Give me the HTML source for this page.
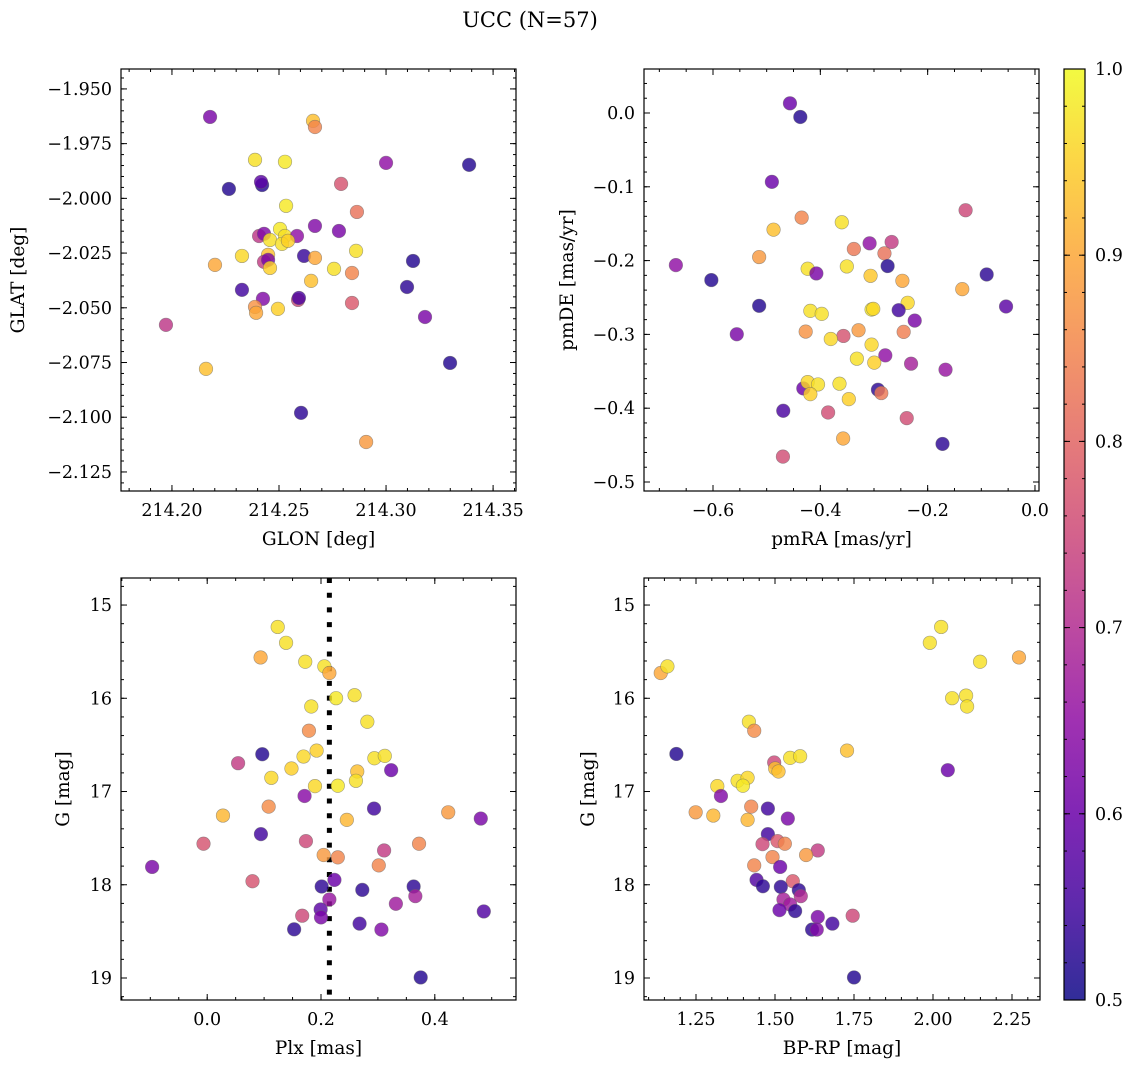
<!DOCTYPE html>
<html><head><meta charset="utf-8">
<style>
html,body{margin:0;padding:0;background:#fff;}
svg{display:block;font-family:"DejaVu Serif","Liberation Serif",serif;}
</style></head>
<body>
<svg id="fig" width="1136" height="1068" viewBox="0 0 1136 1068" xmlns="http://www.w3.org/2000/svg">
<text x="530" y="27" text-anchor="middle" font-size="21">UCC (N=57)</text>
</svg>
<script>
// Panel 1: GLON vs GLAT
const glon1 = [214.2178,214.2266,214.2421,214.2659,214.2668,214.2388,214.2528,214.3000,214.3388,214.2416,214.2790,214.2533,214.2864,214.2668,214.2780,214.2860,214.2407,214.2430,214.2505,214.2528,214.2584,214.2458,214.2514,214.2542,214.2327,214.2449,214.2617,214.2668,214.2201,214.2430,214.2449,214.2458,214.2757,214.2841,214.3126,214.2327,214.2425,214.2589,214.2593,214.2650,214.2388,214.2393,214.2495,214.2841,214.3098,214.3182,214.1972,214.3299,214.2159,214.2603,214.2907];
const glat1 = [-1.9628,-1.9957,-1.9939,-1.9646,-1.9674,-1.9824,-1.9833,-1.9838,-1.9847,-1.9925,-1.9934,-2.0034,-2.0062,-2.0126,-2.0149,-2.0240,-2.0172,-2.0162,-2.0140,-2.0172,-2.0172,-2.0190,-2.0208,-2.0194,-2.0263,-2.0258,-2.0263,-2.0272,-2.0304,-2.0290,-2.0281,-2.0318,-2.0322,-2.0341,-2.0286,-2.0418,-2.0459,-2.0464,-2.0455,-2.0377,-2.0496,-2.0523,-2.0505,-2.0478,-2.0405,-2.0542,-2.0578,-2.0752,-2.0779,-2.0980,-2.1113];
const prob1 = [.62,.52,.52,.93,.85,.97,.98,.65,.52,.58,.77,.98,.82,.63,.62,.97,.72,.63,.98,.97,.65,.97,.97,.95,.96,.93,.54,.90,.90,.73,.62,.95,.97,.85,.52,.55,.63,.75,.56,.93,.87,.90,.95,.78,.53,.62,.72,.52,.93,.53,.88];
// Panel 2: pmRA vs pmDE
const pmra2 = [-0.4566,-0.4373,-0.4903,-0.1293,-0.4348,-0.3600,-0.4872,-0.3375,-0.3082,-0.2671,-0.2805,-0.5140,-0.2746,-0.6692,-0.3506,-0.4236,-0.4074,-0.3064,-0.6031,-0.2471,-0.0900,-0.1355,-0.2372,-0.5140,-0.0539,-0.2540,-0.3045,-0.3014,-0.4186,-0.3974,-0.2241,-0.4273,-0.3288,-0.2447,-0.3569,-0.3805,-0.3045,-0.5557,-0.2789,-0.3319,-0.2995,-0.2309,-0.1667,-0.4317,-0.4236,-0.4043,-0.3643,-0.4186,-0.3469,-0.2926,-0.2864,-0.4691,-0.3855,-0.2390,-0.3575,-0.1723,-0.4697];
const pmde2 = [0.0131,-0.0054,-0.0933,-0.1318,-0.1418,-0.1481,-0.1581,-0.1843,-0.1766,-0.1748,-0.1902,-0.1952,-0.2074,-0.2061,-0.2079,-0.2111,-0.2174,-0.2206,-0.2264,-0.2274,-0.2188,-0.2387,-0.2572,-0.2613,-0.2622,-0.2672,-0.2663,-0.2654,-0.2681,-0.2722,-0.2813,-0.2962,-0.2944,-0.2966,-0.3021,-0.3062,-0.3139,-0.2998,-0.3284,-0.3329,-0.3383,-0.3397,-0.3478,-0.3732,-0.3646,-0.3678,-0.3668,-0.3809,-0.3877,-0.3750,-0.3795,-0.4035,-0.4058,-0.4135,-0.4411,-0.4484,-0.4656];
const prob2 = [.60,.52,.60,.75,.85,.97,.93,.83,.65,.73,.82,.88,.52,.65,.97,.97,.62,.94,.52,.90,.53,.90,.96,.52,.58,.55,.98,.96,.97,.97,.62,.87,.88,.84,.77,.96,.96,.62,.65,.97,.95,.68,.66,.60,.96,.97,.97,.95,.95,.53,.83,.56,.76,.76,.90,.53,.76];
// Panel 3: Plx vs G
const plx3 = [0.1239,0.1386,0.0938,0.1723,0.2059,0.2147,0.2265,0.2590,0.1829,0.2814,0.1788,0.0968,0.0543,0.1923,0.1693,0.2938,0.3121,0.1481,0.2637,0.3233,0.1127,0.1894,0.2295,0.2614,0.1711,0.1080,0.2932,0.0277,0.2454,0.4236,0.4808,0.0944,0.1735,-0.0065,0.3109,0.3723,0.2047,0.2295,0.3015,-0.0968,0.0796,0.2236,0.2012,0.2726,0.3628,0.3658,0.2147,0.3316,0.4861,0.1994,0.1670,0.2000,0.2678,0.1528,0.3062,0.3752];
const gmag3 = [15.235,15.405,15.562,15.608,15.658,15.729,15.999,15.967,16.088,16.252,16.348,16.600,16.696,16.561,16.625,16.643,16.618,16.753,16.785,16.771,16.853,16.942,16.938,16.885,17.048,17.162,17.183,17.258,17.304,17.223,17.290,17.457,17.532,17.560,17.632,17.560,17.681,17.706,17.792,17.809,17.962,17.948,18.019,18.055,18.019,18.122,18.158,18.204,18.286,18.265,18.332,18.350,18.417,18.478,18.481,18.994];
const prob3 = [.97,.97,.90,.97,.97,.90,.98,.97,.97,.97,.86,.52,.73,.95,.96,.97,.97,.95,.93,.60,.96,.96,.98,.97,.64,.86,.55,.92,.92,.88,.62,.55,.75,.77,.73,.85,.88,.85,.85,.62,.77,.60,.53,.53,.53,.68,.66,.67,.57,.58,.75,.62,.55,.53,.63,.52];
const plxLine = [0.2147];
// Panel 4: BP-RP vs G
const bprp4 = [1.1384,1.1595,2.0258,1.9900,2.2721,2.1489,2.0605,2.1047,2.1079,1.4174,1.4342,1.1879,1.7279,1.4974,1.5005,1.5111,1.5479,1.5795,2.0468,1.3816,1.4132,1.3984,1.3174,1.3289,1.2489,1.3047,1.4247,1.4774,1.5405,1.4132,1.4774,1.4605,1.5079,1.5311,1.6353,1.5984,1.4921,1.4342,1.5163,1.4416,1.4616,1.5563,1.5184,1.5753,1.5816,1.5268,1.5479,1.5142,1.5637,1.6353,1.7458,1.6816,1.6174,1.6321,1.7500];
const gmag4 = [15.729,15.658,15.235,15.405,15.562,15.608,15.999,15.971,16.088,16.252,16.348,16.597,16.561,16.689,16.753,16.785,16.639,16.622,16.771,16.885,16.853,16.938,16.942,17.048,17.223,17.258,17.162,17.183,17.290,17.304,17.457,17.564,17.532,17.560,17.632,17.681,17.703,17.792,17.809,17.948,18.016,17.962,18.023,18.058,18.122,18.158,18.211,18.272,18.282,18.346,18.332,18.417,18.481,18.481,18.994];
const prob4 = [.90,.97,.97,.97,.90,.97,.97,.97,.97,.97,.86,.52,.93,.75,.93,.93,.97,.97,.60,.97,.96,.98,.96,.63,.88,.92,.85,.55,.62,.92,.55,.75,.78,.85,.73,.88,.85,.85,.60,.57,.53,.78,.53,.53,.70,.68,.67,.60,.53,.62,.75,.55,.53,.63,.52];
// Ticks
const ticks1x = [214.20,214.25,214.30,214.35];
const ticks1y = [-1.950,-1.975,-2.000,-2.025,-2.050,-2.075,-2.100,-2.125];
const ticks2x = [-0.6,-0.4,-0.2,0.0];
const ticks2y = [0.0,-0.1,-0.2,-0.3,-0.4,-0.5];
const ticks3x = [0.0,0.2,0.4];
const ticksG = [15,16,17,18,19];
const ticks4x = [1.25,1.50,1.75,2.00,2.25];
const ticksCb = [0.5,0.6,0.7,0.8,0.9,1.0];

const TICKFS=17.5, LABFS=18.5;
const NS='http://www.w3.org/2000/svg';
const svg=document.getElementById('fig');
function mk(tag,attrs,parent){const e=document.createElementNS(NS,tag);for(const k in attrs)e.setAttribute(k,attrs[k]);(parent||svg).appendChild(e);return e;}
const plasma=[[13,8,135],[65,4,157],[106,0,168],[143,13,164],[177,42,144],[204,71,120],[225,100,98],[242,132,75],[252,166,54],[252,206,37],[240,249,33]];
function cmap(p){let t=Math.max(0,Math.min(1,(p-0.5)/0.5))*10;let i=Math.min(9,Math.floor(t));let f=t-i;const a=plasma[i],b=plasma[i+1];return 'rgb('+a.map((v,k)=>Math.round(v+(b[k]-v)*f)).join(',')+')';}
function fmt(v,d){const s=Math.abs(v).toFixed(d);return (v<-1e-9?'\u2212':'')+s;}

function panel(o){
  const g=mk('g',{});
  
  
  const sx=v=>o.x0+(v-o.xmin)/(o.xmax-o.xmin)*(o.x1-o.x0);
  const sy=v=>o.y1-(v-o.ymin)/(o.ymax-o.ymin)*(o.y1-o.y0);
  const tg=mk('g',{stroke:'#000','stroke-width':1},g);
  
  
  const mstart=Math.ceil(o.xmin/o.xminor-1e-6), mend=Math.floor(o.xmax/o.xminor+1e-6);
  for(let k=mstart;k<=mend;k++){const X=sx(k*o.xminor);mk('line',{x1:X,x2:X,y1:o.y1,y2:o.y1-3},tg);mk('line',{x1:X,x2:X,y1:o.y0,y2:o.y0+3},tg);}
  const ms=Math.ceil(o.ymin/o.yminor-1e-6), me=Math.floor(o.ymax/o.yminor+1e-6);
  for(let k=ms;k<=me;k++){const Y=sy(k*o.yminor);mk('line',{x1:o.x0,x2:o.x0+3,y1:Y,y2:Y},tg);mk('line',{x1:o.x1,x2:o.x1-3,y1:Y,y2:Y},tg);}
  o.xt.forEach(v=>{const X=sx(v);mk('line',{x1:X,x2:X,y1:o.y1,y2:o.y1-6},tg);mk('line',{x1:X,x2:X,y1:o.y0,y2:o.y0+6},tg);
    const t=mk('text',{x:X,y:o.y1+25,'text-anchor':'middle','font-size':TICKFS},g);t.textContent=fmt(v,o.xd);
    
    });
  o.yt.forEach(v=>{const Y=sy(v);mk('line',{x1:o.x0,x2:o.x0+6,y1:Y,y2:Y},tg);mk('line',{x1:o.x1,x2:o.x1-6,y1:Y,y2:Y},tg);
    const t=mk('text',{x:o.x0-9,y:Y+6,'text-anchor':'end','font-size':TICKFS},g);t.textContent=o.neg?fmt(-v,o.yd):fmt(v,o.yd);
    
    });
  if(o.vline){o.vline.forEach(v=>{const l=mk('line',{x1:sx(v),x2:sx(v),y1:o.y0,y2:o.y1,stroke:'#000','stroke-width':5,'stroke-dasharray':'5 9.7'},g);
    
    });}
  const pg=mk('g',{},g);
  
  
  o.xs.forEach((xv,i)=>{const c=mk('circle',{cx:sx(xv),cy:sy(o.ys[i]),r:6.8,fill:cmap(o.ps[i]),'fill-opacity':0.82,stroke:'#666','stroke-opacity':0.6,'stroke-width':0.6},pg);
    
    });
  const fr=mk('rect',{x:o.x0,y:o.y0,width:o.x1-o.x0,height:o.y1-o.y0,fill:'none',stroke:'#000','stroke-width':1.2},g);
  
  
  const xl=mk('text',{x:(o.x0+o.x1)/2,y:o.y1+54,'text-anchor':'middle','font-size':LABFS},g);xl.textContent=o.xlab;
  
  
  const yx=o.ylx, yy=(o.y0+o.y1)/2;
  const yl=mk('text',{x:yx,y:yy,'text-anchor':'middle','font-size':LABFS,transform:'rotate(-90 '+yx+' '+yy+')'},g);yl.textContent=o.ylab;
  
  
}

panel({name:'glon-glat-panel',x0:121,x1:516,y0:69,y1:491,xmin:214.1762,xmax:214.3607,ymin:-2.1337,ymax:-1.9409,xminor:0.01,yminor:0.005,xt:ticks1x,yt:ticks1y,xd:2,yd:3,xs:glon1,ys:glat1,ps:prob1,xlab:'GLON [deg]',ylab:'GLAT [deg]',ylx:24});
panel({name:'pm-panel',x0:644,x1:1039,y0:69,y1:491,xmin:-0.7286,xmax:0.0075,ymin:-0.5122,ymax:0.0596,xminor:0.05,yminor:0.02,xt:ticks2x,yt:ticks2y,xd:1,yd:1,xs:pmra2,ys:pmde2,ps:prob2,xlab:'pmRA [mas/yr]',ylab:'pmDE [mas/yr]',ylx:573});
panel({name:'plx-g-panel',x0:121,x1:516,y0:578,y1:1000,xmin:-0.1515,xmax:0.5427,ymin:-19.236,ymax:-14.71,xminor:0.05,yminor:0.2,xt:ticks3x,yt:ticksG.map(v=>-v),neg:true,xd:1,yd:0,xs:plx3,ys:gmag3.map(v=>-v),ps:prob3,xlab:'Plx [mas]',ylab:'G [mag]',ylx:69,vline:plxLine});
panel({name:'cmd-panel',x0:644,x1:1040,y0:578,y1:1000,xmin:1.0854,xmax:2.3386,ymin:-19.236,ymax:-14.71,xminor:0.05,yminor:0.2,xt:ticks4x,yt:ticksG.map(v=>-v),neg:true,xd:2,yd:0,xs:bprp4,ys:gmag4.map(v=>-v),ps:prob4,xlab:'BP-RP [mag]',ylab:'G [mag]',ylx:594});

// Colorbar
const cb=mk('g',{});


const defs=mk('defs',{},cb);
const lg=mk('linearGradient',{id:'plasma',x1:0,y1:1,x2:0,y2:0},defs);
plasma.forEach((c,i)=>mk('stop',{offset:(i/10),'stop-color':'rgb('+c.join(',')+')','stop-opacity':0.85},lg));
const cx0=1064,cx1=1085,cy0=69,cy1=1000;
mk('rect',{x:cx0,y:cy0,width:cx1-cx0,height:cy1-cy0,fill:'url(#plasma)',stroke:'#000','stroke-width':1.2},cb);
const cby=v=>cy1-(v-0.5)/0.5*(cy1-cy0);
for(let k=25;k<=50;k++){const Y=cby(k*0.02);mk('line',{x1:cx1,x2:cx1-3,y1:Y,y2:Y,stroke:'#000'},cb);mk('line',{x1:cx0,x2:cx0+3,y1:Y,y2:Y,stroke:'#000'},cb);}
ticksCb.forEach(v=>{const Y=cby(v);mk('line',{x1:cx1,x2:cx1-6,y1:Y,y2:Y,stroke:'#000'},cb);mk('line',{x1:cx0,x2:cx0+6,y1:Y,y2:Y,stroke:'#000'},cb);
  const t=mk('text',{x:cx1+10,y:Y+6,'font-size':TICKFS},cb);t.textContent=v.toFixed(1);
  
  });
</script>
</body></html>
